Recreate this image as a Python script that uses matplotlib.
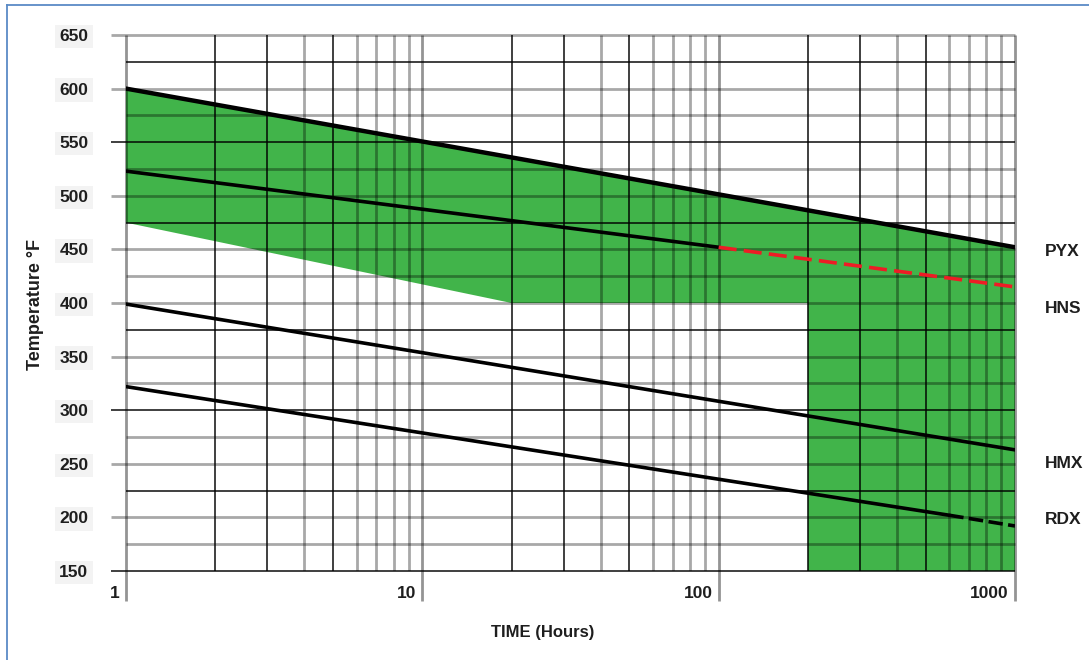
import numpy as np
import matplotlib
matplotlib.use('Agg')
import matplotlib.pyplot as plt
from matplotlib import transforms
from matplotlib.lines import Line2D

# explosive ratings: time at temperature (hours, deg F)
pyx_hours = [1, 1000]
pyx_temp = [600, 452]

hns_hours = [1, 100]
hns_temp = [523, 452]
hns_ext_hours = [100, 1000]
hns_ext_temp = [452, 415]

hmx_hours = [1, 1000]
hmx_temp = [399, 263]

rdx_hours = [1, 600]
rdx_temp = [322, 202]
rdx_ext_hours = [600, 1000]
rdx_ext_temp = [202, 192]

# operating zone outline
zone_hours = [1, 1000, 1000, 200, 200, 20, 1]
zone_temp = [600, 452, 150, 150, 400, 400, 475]

temp_ticks = [150, 200, 250, 300, 350, 400, 450, 500, 550, 600, 650]
hour_ticks = [1, 10, 100, 1000]
hour_labels = ['1', '10', '100', '1000']

names = ['PYX', 'HNS', 'HMX', 'RDX']
name_temp = [448, 395, 250, 198]

fam = ['Liberation Sans', 'DejaVu Sans']
text_col = '#1e1e1e'
green = '#41b44a'

fig = plt.figure(figsize=(10.89, 6.6), dpi=100)
ax = fig.add_axes([126 / 1089, 89 / 660, 889 / 1089, 536 / 660])
ax.set_xscale('log')
ax.set_xlim(1, 1000)
ax.set_ylim(150, 650)
for s in ax.spines.values():
    s.set_visible(False)

ax.fill(zone_hours, zone_temp, color=green, lw=0, zorder=0)

# horizontal grid, every 25 deg; the 50s run out past the axis as ticks
dark_rows = [150, 225, 300, 375, 475, 550, 625]
ytr = ax.get_yaxis_transform()
for t in range(150, 651, 25):
    x0 = -0.017 if t % 50 == 0 else 0.0
    if t in dark_rows:
        ax.hlines(t, x0, 1, transform=ytr, color='black', alpha=0.88,
                  lw=1.2, clip_on=False, zorder=1)
    else:
        ax.hlines(t, x0, 1, transform=ytr, color='black', alpha=0.34,
                  lw=2.0, clip_on=False, zorder=1)

# vertical log grid, decades drop below as ticks
xtr = ax.get_xaxis_transform()
for dec in [1, 10, 100]:
    for m in range(2, 10):
        h = dec * m
        if m in (2, 3, 5):
            ax.vlines(h, 0, 1, transform=xtr, color='black', alpha=0.88,
                      lw=1.2, zorder=1)
        else:
            ax.vlines(h, 0, 1, transform=xtr, color='black', alpha=0.34,
                      lw=2.0, zorder=1)
for h in hour_ticks:
    ax.vlines(h, -0.056, 1, transform=xtr, color='black', alpha=0.42,
              lw=2.0, clip_on=False, zorder=1)

ax.set_xticks([])
ax.set_yticks(temp_ticks)
ax.set_yticklabels([str(t) for t in temp_ticks], fontfamily=fam,
                   fontweight='bold', fontsize=12.5, color=text_col)
for lab in ax.get_yticklabels():
    lab.set_bbox(dict(facecolor='#f3f3f3', edgecolor='none', pad=3))
ax.tick_params(axis='y', length=0, pad=27)
ax.minorticks_off()

lab_tr = transforms.offset_copy(xtr, fig=fig, x=-6, y=-23, units='dots')
for h, s in zip(hour_ticks, hour_labels):
    ax.text(h, 0, s, transform=lab_tr, ha='right', va='center',
            fontfamily=fam, fontweight='bold', fontsize=12.5, color=text_col)

# rating lines
ax.plot(pyx_hours, pyx_temp, color='black', lw=3.2, solid_capstyle='round', zorder=3)
ax.plot(hns_hours, hns_temp, color='black', lw=2.6, solid_capstyle='round', zorder=3)
ax.plot(hns_ext_hours, hns_ext_temp, color='#ee1c25', lw=2.6,
        linestyle=(0, (5, 2)), zorder=3)
ax.plot(hmx_hours, hmx_temp, color='black', lw=2.6, solid_capstyle='round', zorder=3)
ax.plot(rdx_hours, rdx_temp, color='black', lw=2.6, solid_capstyle='round', zorder=3)
ax.plot(rdx_ext_hours, rdx_ext_temp, color='black', lw=2.6,
        linestyle=(0, (4, 1.5)), zorder=3)

name_tr = transforms.blended_transform_factory(ax.transAxes, ax.transData)
for n, t in zip(names, name_temp):
    ax.text(1.034, t, n, transform=name_tr, ha='left', va='center',
            fontfamily=fam, fontweight='bold', fontsize=12.5, color=text_col,
            clip_on=False)

fig.text(543 / 1089, 1 - 633 / 660, 'TIME (Hours)', ha='center', va='center',
         fontfamily=fam, fontweight='bold', fontsize=12, color=text_col)
fig.text(36 / 1089, 1 - 305 / 660, 'Temperature °F', rotation=90,
         ha='center', va='center', fontfamily=fam, fontweight='bold',
         fontsize=13, color=text_col)

# frame around the figure
border = '#5b8ac6'
fig.add_artist(Line2D([7 / 1089, 7 / 1089], [0, 1 - 5 / 660],
                      transform=fig.transFigure, color=border, lw=1.3))
fig.add_artist(Line2D([7 / 1089, 1], [1 - 5 / 660, 1 - 5 / 660],
                      transform=fig.transFigure, color=border, lw=1.3))

fig.savefig('out.png', dpi=100, facecolor='white')
